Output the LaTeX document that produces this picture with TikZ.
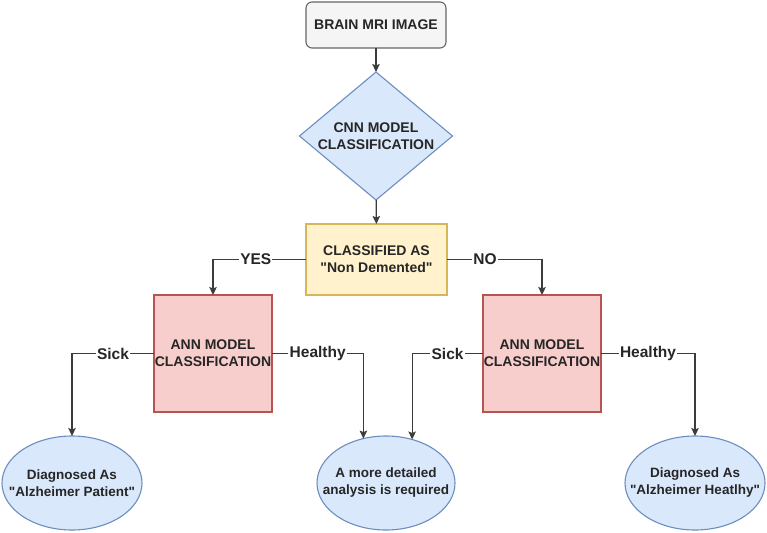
\documentclass[tikz,border=0pt]{standalone}
\usepackage{fontspec}
\newfontfamily\dfont{Liberation Sans}
\setmainfont{Liberation Sans}
\usetikzlibrary{shapes.geometric,arrows.meta}
\definecolor{grayfill}{HTML}{F5F5F5}
\definecolor{graydraw}{HTML}{666666}
\definecolor{bluefill}{HTML}{DAE8FC}
\definecolor{bluedraw}{HTML}{6C8EBF}
\definecolor{yelfill}{HTML}{FFF2CC}
\definecolor{yeldraw}{HTML}{D6B656}
\definecolor{redfill}{HTML}{F8CECC}
\definecolor{reddraw}{HTML}{B85450}
\definecolor{ink}{HTML}{262626}
\tikzset{
  base/.style={font=\dfont\fontsize{14}{17}\selectfont\bfseries, text=ink, align=center, inner sep=0pt, outer sep=0pt, line width=1.1pt},
  startbox/.style={base, rectangle, rounded corners=6pt, fill=grayfill, draw=graydraw, minimum width=140pt, minimum height=46pt},
  decide/.style={base, diamond, aspect=1.195, fill=bluefill, draw=bluedraw, minimum width=153pt, minimum height=128pt},
  yelbox/.style={base, rectangle, fill=yelfill, draw=yeldraw, minimum width=141pt, minimum height=71pt},
  annbox/.style={base, rectangle, fill=redfill, draw=reddraw, minimum width=118pt, minimum height=117pt},
  result/.style={base, ellipse, fill=bluefill, draw=bluedraw, inner xsep=-40pt, inner ysep=-10pt, minimum width=140pt, minimum height=94pt, font=\dfont\fontsize{13.5}{17}\selectfont\bfseries},
  arr/.style={draw=ink!90, line width=1.2pt, -{Stealth[length=8pt,width=7.5pt,inset=1.5pt]}},
  lbl/.style={font=\dfont\fontsize{15.5}{18}\selectfont\bfseries, text=ink, fill=white, inner sep=1.2pt}
}
\begin{document}
\begin{tikzpicture}[x=1pt,y=-1pt]
\useasboundingbox (0,0) rectangle (767,532);
\node[startbox] (img) at (376,25) {BRAIN MRI IMAGE};
\node[decide] (cnn) at (376,136) {CNN MODEL\\CLASSIFICATION};
\node[yelbox] (cls) at (376.5,259.5) {CLASSIFIED AS\\"Non Demented"};
\node[annbox] (annL) at (213,353.5) {ANN MODEL\\CLASSIFICATION};
\node[annbox] (annR) at (542,353.5) {ANN MODEL\\CLASSIFICATION};
\node[result] (eL) at (72,483) {Diagnosed As\\"Alzheimer Patient"};
\node[result, minimum width=138pt] (eM) at (386,483) {A more detailed\\analysis is required};
\node[result] (eR) at (695,483) {Diagnosed As\\"Alzheimer Heatlhy"};
\draw[arr] (img) -- (cnn);
\draw[arr] (cnn) -- (cls);
\draw[arr] (cls.west) -| node[lbl, pos=0.27]{YES} (annL.north);
\draw[arr] (cls.east) -| node[lbl, pos=0.2]{NO} (annR.north);
\draw[arr] (annL.west) -| node[lbl, pos=0.25]{Sick} (eL.north);
\draw[arr] (annL.east) -| node[lbl, pos=0.25]{Healthy} (eM.117.4);
\draw[arr] (annR.west) -| node[lbl, pos=0.25]{Sick} (eM.59.1);
\draw[arr] (annR.east) -| node[lbl, pos=0.25]{Healthy} (eR.north);
\end{tikzpicture}
\end{document}
